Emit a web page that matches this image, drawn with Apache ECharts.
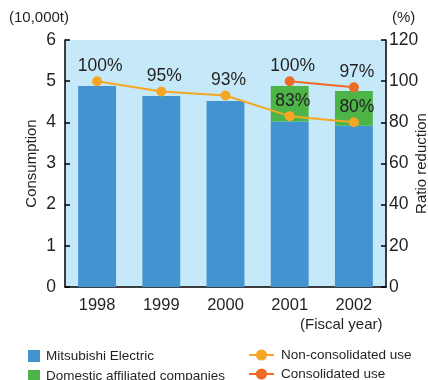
<!DOCTYPE html>
<html>
<head>
<meta charset="utf-8">
<script src="https://cdn.jsdelivr.net/npm/echarts@6/dist/echarts.min.js"></script>
<style>
  html, body { margin: 0; padding: 0; background: #fff; }
  #chart { width: 428px; height: 380px; }
</style>
</head>
<body>
<div id="chart"></div>
<script>
// Fiscal years on the category axis
const years = ['1998', '1999', '2000', '2001', '2002'];
// Consumption (10,000t)
const mitsubishiElectric = [4.88, 4.64, 4.52, 4.02, 3.92];
const domesticAffiliates = ['-', '-', '-', 0.86, 0.84];
// Ratio reduction (%), fiscal 1998 = 100
const nonConsolidated = [100, 95, 93, 83, 80];
const consolidated = ['-', '-', '-', 100, 97];
// Axis tick values
const leftTicks = [0, 1, 2, 3, 4, 5, 6];
const rightTicks = [0, 20, 40, 60, 80, 100, 120];

const FONT = '"Liberation Sans", Arial, sans-serif';
const TEXT = '#231f20';

const chart = echarts.init(document.getElementById('chart'), null, { renderer: 'canvas' });

const axisLineStyle = { color: '#000', width: 1.5 };

const pctLabel = {
  show: true,
  position: 'top',
  distance: 1,
  offset: [3, 0],
  fontFamily: FONT,
  fontSize: 17.5,
  color: TEXT,
  formatter: p => p.value + '%'
};

chart.setOption({
  animation: false,
  textStyle: { fontFamily: FONT, color: TEXT },
  grid: {
    left: 65, right: 42, top: 40, bottom: 93,
    outerBoundsMode: 'none',
    show: true, backgroundColor: '#c6e9f9', borderWidth: 0
  },
  xAxis: {
    type: 'category',
    data: years,
    boundaryGap: true,
    axisLine: { lineStyle: axisLineStyle },
    axisTick: { inside: true, length: 5, lineStyle: { color: '#000', width: 1.5 } },
    axisLabel: { fontFamily: FONT, fontSize: 16.5, color: TEXT, margin: 10 }
  },
  yAxis: [
    {
      type: 'value',
      min: leftTicks[0], max: leftTicks[leftTicks.length - 1], interval: 1,
      name: 'Consumption', nameLocation: 'middle', nameRotate: 90, nameGap: 26,
      nameMoveOverlap: false,
      nameTextStyle: { fontFamily: FONT, fontSize: 15, color: TEXT },
      axisLine: { show: true, lineStyle: axisLineStyle },
      axisTick: { show: true, inside: true, length: 5, lineStyle: { color: '#000', width: 1.5 } },
      axisLabel: { fontFamily: FONT, fontSize: 17.5, color: TEXT, margin: 9 },
      splitLine: { show: false }
    },
    {
      type: 'value',
      position: 'right',
      min: rightTicks[0], max: rightTicks[rightTicks.length - 1], interval: 20,
      name: 'Ratio reduction', nameLocation: 'middle', nameRotate: 90, nameGap: 28,
      nameMoveOverlap: false,
      nameTextStyle: { fontFamily: FONT, fontSize: 15, color: TEXT },
      axisLine: { show: true, lineStyle: axisLineStyle },
      axisTick: { show: true, inside: true, length: 5, lineStyle: { color: '#000', width: 1.5 } },
      axisLabel: { fontFamily: FONT, fontSize: 17.5, color: TEXT, margin: 3 },
      splitLine: { show: false }
    }
  ],
  legend: [
    {
      orient: 'vertical', left: 28, top: 349, height: 40, padding: 0,
      itemWidth: 12, itemHeight: 12, itemGap: 6,
      textStyle: { fontFamily: FONT, fontSize: 13.5, color: TEXT, padding: [0, 0, 0, 1] },
      data: [
        { name: 'Mitsubishi Electric', icon: 'rect' },
        { name: 'Domestic affiliated companies', icon: 'rect' }
      ]
    },
    {
      orient: 'vertical', left: 248, top: 348, height: 40, padding: 0,
      itemWidth: 25, itemHeight: 14, itemGap: 5,
      textStyle: { fontFamily: FONT, fontSize: 13.5, color: TEXT, padding: [0, 0, 0, 2] },
      data: ['Non-consolidated use', 'Consolidated use']
    }
  ],
  graphic: [
    { type: 'text', left: 9, top: 10, style: { text: '(10,000t)', font: '15px ' + FONT, fill: TEXT } },
    { type: 'text', left: 392, top: 10, style: { text: '(%)', font: '15px ' + FONT, fill: TEXT } },
    { type: 'text', left: 300, top: 317, style: { text: '(Fiscal year)', font: '15px ' + FONT, fill: TEXT } }
  ],
  series: [
    {
      name: 'Mitsubishi Electric', type: 'bar', stack: 'use',
      data: mitsubishiElectric, barWidth: '59%',
      itemStyle: { color: '#4393d0' }
    },
    {
      name: 'Domestic affiliated companies', type: 'bar', stack: 'use',
      data: domesticAffiliates, barWidth: '59%',
      itemStyle: { color: '#4db548' }
    },
    {
      name: 'Non-consolidated use', type: 'line', yAxisIndex: 1,
      data: nonConsolidated,
      symbol: 'circle', symbolSize: 10,
      lineStyle: { color: '#f6a623', width: 2 },
      itemStyle: { color: '#f6a623' },
      label: pctLabel, z: 5
    },
    {
      name: 'Consolidated use', type: 'line', yAxisIndex: 1,
      data: consolidated,
      symbol: 'circle', symbolSize: 10,
      lineStyle: { color: '#ee6b25', width: 2 },
      itemStyle: { color: '#ee6b25' },
      label: pctLabel, z: 5
    }
  ]
});
</script>
</body>
</html>
